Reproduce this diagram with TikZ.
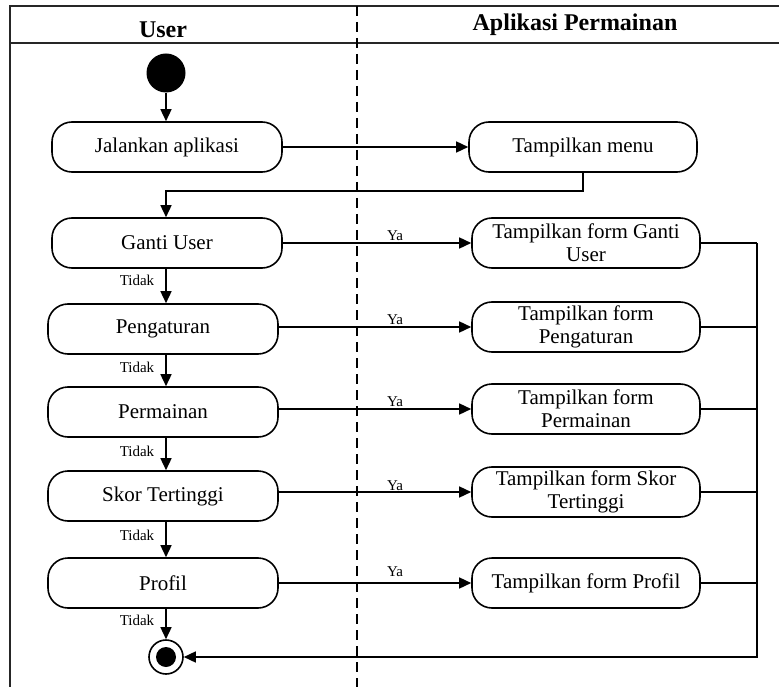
\documentclass[tikz,border=0pt]{standalone}
\usepackage{fontspec}
\setmainfont{Liberation Serif}
\usetikzlibrary{arrows.meta,calc}

\tikzset{
  act/.style={draw, line width=1.6pt, rounded corners=20pt, minimum width=230pt,
    minimum height=50pt, align=center, inner sep=2pt,
    font=\fontsize{21}{23}\selectfont},
  flow/.style={line width=1.5pt, -{Triangle[length=12pt,width=11pt]}},
  wire/.style={line width=1.5pt},
  frame/.style={line width=2pt, draw=black!85},
  lane/.style={line width=1.5pt, dash pattern=on 10pt off 6pt},
  lbl/.style={font=\fontsize{15}{17}\selectfont, inner sep=0pt},
  head/.style={font=\fontsize{24}{26}\selectfont\bfseries, inner sep=0pt}
}

\begin{document}
\begin{tikzpicture}[x=1pt, y=-1pt]
\useasboundingbox (0,0) rectangle (779,687);

% swimlane frame
\draw[frame] (779,6) -- (10,6) -- (10,687);
\draw[frame] (10,43) -- (779,43);
\draw[lane] (357,6) -- (357,687);
\node[head] (hUser) at (163,30) {User};
\node[head] (hApp) at (575,25) {Aplikasi Permainan};

% start and end
\node[circle, fill=black, minimum size=39pt, inner sep=0pt] (start) at (166,73) {};
\node[circle, draw, line width=1.6pt, minimum size=34pt, inner sep=0pt] (end) at (166,657) {};
\node[circle, fill=black, minimum size=20pt, inner sep=0pt] (endDot) at (end) {};

% user lane activities
\node[act] (run)  at (167,147) {Jalankan aplikasi};
\node[act] (u1)   at (167,243) {Ganti User};
\node[act] (u2)   at (163,329) {Pengaturan};
\node[act] (u3)   at (163,412) {Permainan};
\node[act] (u4)   at (163,496) {Skor Tertinggi};
\node[act] (u5)   at (163,583) {Profil};

% application lane activities
\node[act, minimum width=228pt] (menu) at (583,147) {Tampilkan menu};
\node[act, minimum width=228pt] (a1) at (586,243) {Tampilkan form Ganti\\User};
\node[act, minimum width=228pt] (a2) at (586,327) {Tampilkan form\\Pengaturan};
\node[act, minimum width=228pt] (a3) at (586,409) {Tampilkan form\\Permainan};
\node[act, minimum width=228pt] (a4) at (586,492) {Tampilkan form Skor\\Tertinggi};
\node[act, minimum width=228pt] (a5) at (586,583) {Tampilkan form Profil};

% main flow
\draw[flow] (start) -- (run.north -| start);
\draw[flow] (run) -- (menu);
\coordinate (back) at ($(menu.south)+(0,18)$);
\draw[flow] (menu.south) -- (back) -| (u1.north -| start);

% "Tidak" branches down the user lane
\draw[flow] (u1.south -| start) -- (u2.north -| start);
\draw[flow] (u2.south -| start) -- (u3.north -| start);
\draw[flow] (u3.south -| start) -- (u4.north -| start);
\draw[flow] (u4.south -| start) -- (u5.north -| start);
\draw[flow] (u5.south -| start) -- (end);

\node[lbl] (t1) at (137,280) {Tidak};
\node[lbl] (t2) at (137,367) {Tidak};
\node[lbl] (t3) at (137,451) {Tidak};
\node[lbl] (t4) at (137,535) {Tidak};
\node[lbl] (t5) at (137,620) {Tidak};

% "Ya" branches to the forms
\draw[flow] (u1.east |- a1) -- (a1);
\draw[flow] (u2.east |- a2) -- (a2);
\draw[flow] (u3.east |- a3) -- (a3);
\draw[flow] (u4.east |- a4) -- (a4);
\draw[flow] (u5.east |- a5) -- (a5);

\node[lbl] (y1) at (395,236) {Ya};
\node[lbl] (y2) at (395,320) {Ya};
\node[lbl] (y3) at (395,402) {Ya};
\node[lbl] (y4) at (395,486) {Ya};
\node[lbl] (y5) at (395,572) {Ya};

% every form returns to the final node
\coordinate (rail) at (757,657);
\draw[wire] (a1.east) -- (a1.east -| rail);
\draw[wire] (a2.east) -- (a2.east -| rail);
\draw[wire] (a3.east) -- (a3.east -| rail);
\draw[wire] (a4.east) -- (a4.east -| rail);
\draw[wire] (a5.east) -- (a5.east -| rail);
\draw[flow] (a1.east -| rail) -- (rail) -- (end);
\end{tikzpicture}
\end{document}
